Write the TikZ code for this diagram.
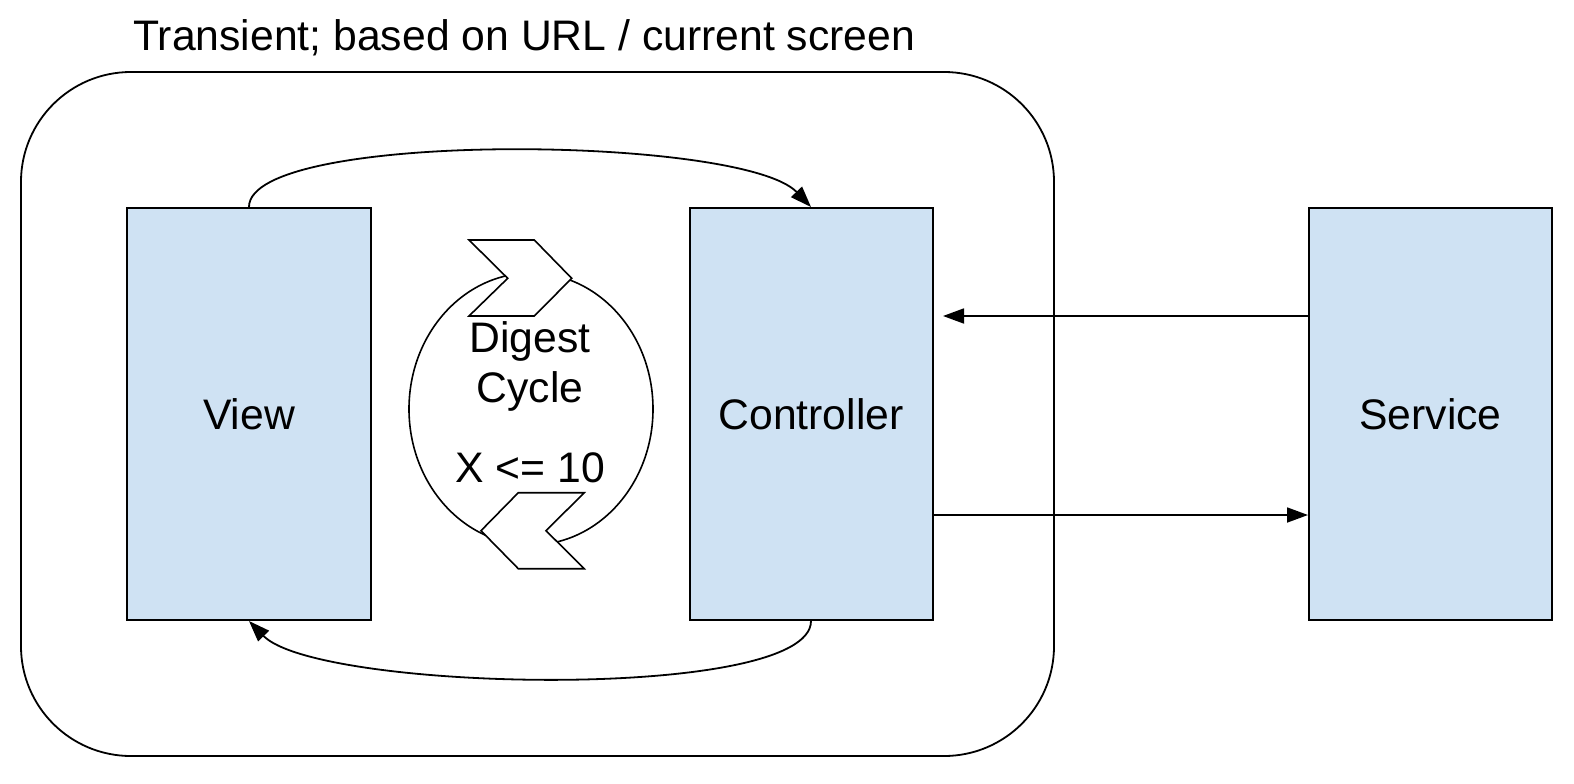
\documentclass[tikz,border=0pt]{standalone}
\usepackage{fontspec}
\setmainfont{Liberation Sans}
\usetikzlibrary{arrows.meta,shapes.geometric}
\definecolor{boxblue}{HTML}{CFE2F3}
\begin{document}
\begin{tikzpicture}[x=0.5bp,y=-0.5bp,
  txt/.style={font=\fontsize{21.35bp}{25bp}\selectfont},
  box/.style={draw, line width=1bp, fill=boxblue, minimum width=121.5bp, minimum height=206bp, inner sep=0pt, txt},
  arr/.style={line width=0.9bp, -{Triangle[length=10.5bp,width=7.5bp]}},
  lbl/.style={txt, inner sep=0pt, anchor=base},
  chev/.style={draw, line width=0.8bp, fill=white, line join=miter}]
\useasboundingbox (0,0) rectangle (1574,784);
\node[draw, line width=0.9bp, rounded corners=55bp, minimum width=516.5bp, minimum height=342bp, inner sep=0pt] (frame) at (537.5,414) {};
\node[lbl, anchor=base west] (title) at (133,50) {Transient; based on URL / current screen};
\node[box] (view) at (249,414) {View};
\node[box] (ctrl) at (811,414) {Controller};
\node[box] (svc) at (1430.5,414) {Service};
% digest cycle
\node[draw, ellipse, line width=0.8bp, minimum width=122bp, minimum height=136bp, inner sep=0pt] (cyc) at (531,409) {};
\draw[chev] (469,240) -- (534.3,240) -- (571.7,278.3) -- (534.3,316) -- (469,316) -- (507.7,278.3) -- cycle;
\draw[chev] (518.3,492.7) -- (584.3,492.7) -- (546,530.7) -- (584.3,568.7) -- (518.3,568.7) -- (481,530.7) -- cycle;
\node[lbl] (dg) at (530,352) {Digest};
\node[lbl] (cy) at (530,402) {Cycle};
\node[lbl] (xl) at (530,482) {X <= 10};
% connectors
\draw[arr] (view.north) .. controls (249,130) and (742,135) .. (ctrl.north);
\draw[arr] (ctrl.south) .. controls (811,702) and (318,692) .. (view.south);
\coordinate (ctip) at (943,316);
\draw[arr] (svc.west |- ctip) -- (ctip);
\coordinate (lowy) at (0,515);
\draw[arr] (ctrl.east |- lowy) -- (svc.west |- lowy);
\end{tikzpicture}
\end{document}
